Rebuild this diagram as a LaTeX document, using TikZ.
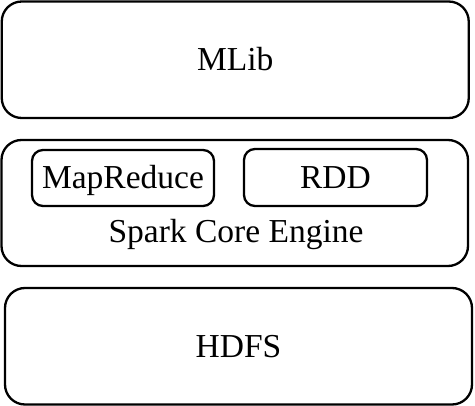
\documentclass[tikz,border=0pt]{standalone}
\usepackage{fontspec}
\setmainfont{Liberation Serif}
\begin{document}
\begin{tikzpicture}[x=1pt,y=-1pt,
  layer/.style={draw=black, line width=2.3pt, rounded corners=20pt, inner sep=0pt,
    font=\fontsize{33.5}{40}\selectfont, text height=22pt, text depth=0pt},
  part/.style={draw=black, line width=2.3pt, rounded corners=11pt, inner sep=0pt,
    font=\fontsize{33.5}{40}\selectfont, text height=22pt, text depth=0pt},
  lbl/.style={inner sep=0pt, anchor=base, font=\fontsize{33.5}{40}\selectfont}]
\useasboundingbox (0,0) rectangle (475,406);
\node[layer, minimum width=467pt, minimum height=116.5pt] (mlib) at (235.25,59.75) {MLib};
\node[layer, minimum width=466.5pt, minimum height=126pt] (spark) at (234.75,203) {};
\node[part, minimum width=182pt, minimum height=56pt] (mapreduce) at (123,178) {MapReduce};
\node[part, minimum width=183pt, minimum height=57pt] (rdd) at (335.5,177.5) {RDD};
\node[lbl] (sparklabel) at (236,243) {Spark Core Engine};
\node[layer, minimum width=467pt, minimum height=116.5pt] (hdfs) at (238.5,346.25) {HDFS};
\end{tikzpicture}
\end{document}
